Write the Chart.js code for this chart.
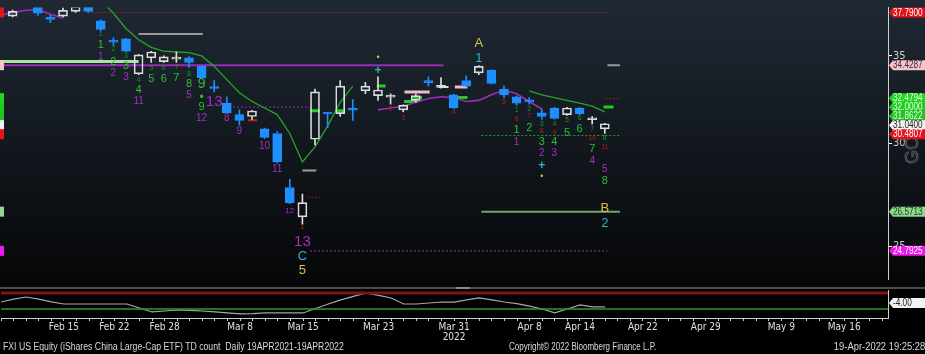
<!DOCTYPE html>
<html>
<head>
<meta charset="utf-8">
<script src="https://cdn.jsdelivr.net/npm/chart.js"></script>
<style>
  html, body { margin:0; padding:0; background:#000; width:925px; height:354px; overflow:hidden; }
  #wrap { position:relative; width:925px; height:354px; }
  canvas { position:absolute; left:0; }
  #main { top:0; }
  #lower { top:287px; }
  .foot { position:absolute; top:341px; font-size:10px; line-height:12px; color:#d8d8d8; white-space:pre;
          font-family:'Liberation Sans',Arial,sans-serif; transform-origin:left top; transform:scaleX(0.87); }
</style>
</head>
<body>
<div id="wrap">
  <canvas id="main" width="925" height="287"></canvas>
  <canvas id="lower" width="925" height="67"></canvas>
  <div class="foot" style="left:3px">FXI US Equity (iShares China Large-Cap ETF) TD count  Daily 19APR2021-19APR2022</div>
  <div class="foot" style="left:509px;transform:scaleX(0.8)">Copyright© 2022 Bloomberg Finance L.P.</div>
  <div class="foot" style="right:0;transform-origin:right top;transform:scaleX(0.94)">19-Apr-2022 19:25:28</div>
</div>
<script>
const FONT = "'Liberation Sans Narrow', 'DejaVu Sans Condensed', 'Arial Narrow', sans-serif";
const NUMFONT = "'Liberation Sans', Arial, sans-serif";

// trading days shown on the x axis
const days = ['Feb 8','Feb 9','Feb 10','Feb 11','Feb 14','Feb 15','Feb 16','Feb 17','Feb 18','Feb 22','Feb 23','Feb 24','Feb 25','Feb 28',
  'Mar 1','Mar 2','Mar 3','Mar 4','Mar 7','Mar 8','Mar 9','Mar 10','Mar 11','Mar 14','Mar 15','Mar 16','Mar 17','Mar 18','Mar 21','Mar 22','Mar 23','Mar 24','Mar 25','Mar 28','Mar 29','Mar 30','Mar 31',
  'Apr 1','Apr 4','Apr 5','Apr 6','Apr 7','Apr 8','Apr 11','Apr 12','Apr 13','Apr 14','Apr 18','Apr 19','Apr 20','Apr 21','Apr 22','Apr 25','Apr 26','Apr 27','Apr 28','Apr 29',
  'May 2','May 3','May 4','May 5','May 6','May 9','May 10','May 11','May 12','May 13','May 16','May 17','May 18','May 19','May 20'];
const tickDays = ['Feb 15','Feb 22','Feb 28','Mar 8','Mar 15','Mar 23','Mar 31','Apr 8','Apr 14','Apr 22','Apr 29','May 9','May 16'];
const yTicks = [25, 30, 35];

// daily OHLC (index = position in days)
const open  = [null,37.55,null,38.30,37.38,37.55,37.87,38.20,37.24,35.92,36.07,33.90,34.88,34.65,34.80,34.88,34.36,33.08,32.19,31.55,31.44,30.76,30.51,27.73,26.33,30.20,31.62,31.60,31.83,32.90,32.62,32.54,31.81,32.35,33.42,33.10,32.67,33.51,33.96,34.13,33.01,32.56,32.31,31.65,31.92,31.55,31.92,31.26,30.76];
const high  = [null,37.95,null,38.50,37.61,38.10,38.30,38.40,37.30,36.13,36.10,35.10,35.29,35.00,35.24,34.95,34.40,33.51,32.56,31.81,31.78,30.80,30.61,28.13,27.41,33.01,31.65,33.51,32.40,33.40,33.73,32.73,32.10,32.73,33.73,33.68,32.70,33.79,34.40,34.15,33.18,32.60,32.51,31.86,31.95,31.95,31.95,31.44,31.07];
const low   = [null,37.50,null,37.60,37.11,37.50,37.80,37.80,36.60,35.65,35.25,33.85,34.59,34.60,34.59,34.30,33.65,32.84,31.60,30.97,31.28,30.25,28.95,26.95,25.98,29.90,30.82,31.44,31.23,32.73,32.35,32.13,31.70,32.24,33.18,33.06,31.90,33.15,33.85,33.30,32.51,32.08,32.13,31.28,31.30,31.50,31.55,31.02,30.51];
const close = [null,37.87,null,37.74,37.33,37.93,38.20,37.87,36.68,35.86,35.29,35.06,35.24,34.94,34.84,34.59,33.68,33.04,31.65,31.23,31.75,30.30,29.01,27.00,27.00,32.84,31.58,33.18,31.79,33.18,32.95,32.58,32.08,32.62,33.38,33.14,31.92,33.18,34.36,33.34,32.67,32.19,32.27,31.44,31.33,31.92,31.60,31.30,31.04];

// trend lines
const greenTrend = [null,null,null,null,null,null,null,null,38.60,37.74,36.74,36.01,35.53,35.29,35.24,35.20,35.00,34.36,33.56,32.79,32.29,31.92,31.55,30.51,29.01,29.80,30.91,32.24,33.18,
  null,null,null,null,null,null,null,null,null,null,null,null,null,32.90,32.67,32.51,32.35,32.19,32.02,31.70];
const magentaTrend = [37.60,37.80,37.93,37.99,37.68,37.43,null,null,null,null,null,null,null,null,null,null,null,null,null,null,null,null,null,null,null,null,null,null,null,null,
  31.81,31.92,32.02,32.24,32.46,32.56,32.51,32.29,32.35,32.67,32.95,32.73,32.29,31.86];

// horizontal levels: [from day, to day, price]
const redDottedLevels = [[7, 48.3, 37.79], [48, 49.2, 32.45], [24.4, 25.4, 27.26]];
const magentaSolidLevels = [[0, 35.2, 34.43]];
const magentaDottedLevels = [[18.5, 24.6, 31.97], [24.6, 48.2, 24.79]];
const greenDottedLevels = [[38.2, 49.2, 30.40]];
const greenSolidLevels = [[38.2, 49.2, 26.57]];
const paleGreenLevels = [[0, 11, 34.65]];
const grayLevels = [[11, 16.1, 36.38], [24, 25.1, 28.58], [48.2, 49.2, 34.43]];
const greenRisk = [[32.06, 33.17, 32.29], [32.8, 33.5, 32.51], [36.1, 37.1, 32.51], [24.6, 25.4, 31.76], [26.6, 27.4, 31.76], [29.9, 30.6, 33.18], [47.9, 48.7, 31.97]];
const pinkRisk = [[32.1, 34.1, 32.84], [36.1, 37.1, 33.12]];
const whiteRisk = [[34.8, 35.6, 33.12]];
const redRisk = [[19.7, 20.4, 31.23]];

// TD count annotations: [day, price, text]
const setupSmall = [[8,36.38,'1'],[9,35.41,'2'],[10,35.00,'3'],[11,33.56,'4'],[12,34.24,'5'],[13,34.24,'6'],[14,34.30,'7'],[15,33.90,'8'],
  [41,31.81,'1'],[42,31.86,'2'],[43,31.02,'3'],[44,31.02,'4'],[45,31.23,'5'],[46,31.33,'6'],[47,30.76,'7'],[48,30.25,'8']];
const setupBig = [[8,35.71,'1'],[9,34.65,'2'],[10,34.36,'3'],[11,32.95,'4'],[12,33.62,'5'],[13,33.62,'6'],[14,33.68,'7'],[15,33.28,'8'],[16,31.97,'9'],
  [41,30.71,'1'],[42,30.82,'2'],[43,30.05,'3'],[44,30.05,'4'],[45,30.56,'5'],[46,30.76,'6'],[47,29.70,'7'],[48,28.06,'8']];
const setupNine = [[16,33.28,'9']];
const greenDots = [[16,32.51,'•']];
const countdown = [[8,34.94,'1'],[9,33.96,'2'],[10,33.73,'3'],[11,32.29,'11'],[15,32.62,'5'],[16,31.33,'12'],[18,31.33,'8'],[19,30.61,'9'],[21,29.85,'10'],[22,28.63,'11'],
  [41,30.05,'1'],[43,29.45,'2'],[44,29.45,'3'],[47,29.06,'4'],[48,28.63,'5']];
const countdownSmall = [[23,26.63,'12']];
const countdownBig = [[17,32.29,'13'],[24,25.21,'13']];
const redCounts = [[24,25.85,'1'],[31,31.86,'2'],[32,31.33,'3'],[36,31.70,'4'],[40,32.24,'5'],[41,31.28,'6'],[42,31.44,'7'],[43,30.66,'8'],[44,30.56,'9'],[47,30.25,'10'],[48,29.80,'11']];
const cyanLabels = [[38,34.82,'1'],[24,24.54,'C'],[48,26.02,'2']];
const yellowLabels = [[38,35.77,'A'],[24,23.93,'5'],[48,26.73,'B']];
const cyanPlus = [[30,34.07,'+'],[43,28.82,'+']];
const yellowDots = [[30,34.88,'•'],[43,28.29,'•']];

// right axis price tags
const tagPrices = [37.79, 34.4287, 32.4794, 32.0, 31.8622, 31.04, 30.4807, 26.5713, 24.7925];
const tagTexts = ['37.7900','34.4287','32.4794','32.0000','31.8622','31.0400','30.4807','26.5713','24.7925'];
const tagColors = [['#e3141a','#fff'],['#f5c3cc','#3a2a2e'],['#1fd61f','#e4ffe4'],['#1fcc1f','#e4ffe4'],['#22c222','#e4ffe4'],['#f2f2f2','#222'],['#e3141a','#fff'],['#8ed88e','#1f3d1f'],['#ec17ec','#fff']];

// lower panel TD indicator
const tdLine = [-3.3,-1.2,0.3,-1.2,-3.2,-4.7,-4.7,-4.7,-4.7,-4.7,-4.7,-7.6,-10.4,-9.7,-9.0,-9.3,-9.7,-10.4,-11.1,-11.8,-11.6,-11.1,-11.1,-11.1,-11.1,
  -7.9,-4.7,-1.8,0.7,3.2,1.4,-0.4,-4.7,-4.7,-4.0,-3.3,-3.3,-1.8,-0.4,-1.8,-3.3,-4.4,-6.2,-8.3,-11.1,-8.3,-5.4,-6.8,-6.8];
const tdUpper = 3.1, tdLower = -8.3, tdLast = -4.0;

const X_MAX = 888 / 12.6;
const BLUE = '#1e8fff', WHITE = '#dcdcdc';
const up = i => close[i] >= open[i];
const candleIdx = open.map((v, i) => v === null ? null : i).filter(v => v !== null);

function levelSets(list, style) {
  return list.map(([a, b, p]) => Object.assign({ type: 'line', data: [{x: a, y: p}, {x: b, y: p}], pointRadius: 0, order: 3 }, style));
}
function series(arr, style) {
  return Object.assign({ type: 'line', data: arr.map((v, i) => ({x: i, y: v})), pointRadius: 0, spanGaps: false, tension: 0, order: 2 }, style);
}

const bgPlugin = {
  id: 'bg',
  beforeDraw(chart) {
    const ctx = chart.ctx;
    const g = ctx.createLinearGradient(0, 0, 0, chart.height);
    g.addColorStop(0, '#1f2934');
    g.addColorStop(0.55, '#11161c');
    g.addColorStop(1, '#050607');
    ctx.save(); ctx.fillStyle = g; ctx.fillRect(0, 0, chart.width, chart.height); ctx.restore();
  }
};

function drawLabels(chart, list, color, size, bold) {
  const ctx = chart.ctx, xs = chart.scales.x, ys = chart.scales.y;
  ctx.save();
  ctx.fillStyle = color;
  ctx.font = (bold ? 'bold ' : '') + size + 'px ' + NUMFONT;
  ctx.textAlign = 'center'; ctx.textBaseline = 'middle';
  list.forEach(([i, p, t]) => ctx.fillText(t, xs.getPixelForValue(i), ys.getPixelForValue(p)));
  ctx.restore();
}

const labelPlugin = {
  id: 'labels',
  afterDatasetsDraw(chart) {
    drawLabels(chart, setupSmall, '#1c961c', 7);
    drawLabels(chart, setupBig, '#2fbf2f', 11);
    drawLabels(chart, setupNine, '#2fbf2f', 14);
    drawLabels(chart, greenDots, '#2fbf2f', 12);
    drawLabels(chart, countdown, '#a42fc0', 10);
    drawLabels(chart, countdownSmall, '#a42fc0', 8);
    drawLabels(chart, countdownBig, '#a42fc0', 15);
    drawLabels(chart, redCounts, '#b81c1c', 7);
    drawLabels(chart, cyanLabels, '#2fb4c8', 13);
    drawLabels(chart, yellowLabels, '#d6c24a', 13);
    drawLabels(chart, cyanPlus, '#2fb4c8', 12, true);
    drawLabels(chart, yellowDots, '#d6c24a', 9);
  }
};

function drawTag(ctx, y, bg, fg, text) {
  const x0 = 889, h = 10;
  ctx.fillStyle = bg;
  ctx.beginPath();
  ctx.moveTo(x0, y);
  ctx.lineTo(x0 + 4, y - h / 2);
  ctx.lineTo(925, y - h / 2);
  ctx.lineTo(925, y + h / 2);
  ctx.lineTo(x0 + 4, y + h / 2);
  ctx.closePath();
  ctx.fill();
  ctx.save();
  ctx.translate(x0 + 4, y + 0.5);
  ctx.scale(0.82, 1);
  ctx.fillStyle = fg;
  ctx.font = '10px ' + NUMFONT;
  ctx.textAlign = 'left'; ctx.textBaseline = 'middle';
  ctx.fillText(text, 0, 0);
  ctx.restore();
}

const tagPlugin = {
  id: 'tags',
  afterDraw(chart) {
    const ctx = chart.ctx, ys = chart.scales.y;
    ctx.save();
    // rotated watermark
    ctx.translate(913, 150);
    ctx.rotate(-Math.PI / 2);
    ctx.strokeStyle = '#55595f';
    ctx.lineWidth = 1;
    ctx.font = '18px ' + NUMFONT;
    ctx.textAlign = 'center'; ctx.textBaseline = 'middle';
    ctx.strokeText('GO', 0, 0);
    ctx.restore();
    ctx.save();
    let prev = -100;
    tagPrices.forEach((p, k) => {
      let y = ys.getPixelForValue(p);
      if (y < prev + 9) y = prev + 9;
      prev = y;
      drawTag(ctx, y, tagColors[k][0], tagColors[k][1], tagTexts[k]);
      ctx.fillStyle = tagColors[k][0];
      ctx.fillRect(0, y - 5, 4, 10);
    });
    ctx.restore();
  }
};

new Chart(document.getElementById('main'), {
  type: 'bar',
  data: {
    datasets: [
      { label: 'body', order: 0, grouped: false, barThickness: 9, minBarLength: 2, borderSkipped: false,
        data: candleIdx.map(i => ({x: i, y: [open[i], close[i]]})),
        backgroundColor: c => up(c.raw.x) ? 'rgba(0,0,0,0)' : BLUE,
        borderColor: c => up(c.raw.x) ? WHITE : BLUE,
        borderWidth: 1 },
      { label: 'wickHi', order: 1, grouped: false, barThickness: 1, borderWidth: 0,
        data: candleIdx.map(i => ({x: i, y: [Math.max(open[i], close[i]), high[i]]})),
        backgroundColor: c => up(c.raw.x) ? WHITE : BLUE },
      { label: 'wickLo', order: 1, grouped: false, barThickness: 1, borderWidth: 0,
        data: candleIdx.map(i => ({x: i, y: [low[i], Math.min(open[i], close[i])]})),
        backgroundColor: c => up(c.raw.x) ? WHITE : BLUE },
      series(greenTrend, { borderColor: '#27a327', borderWidth: 1.3 }),
      series(magentaTrend, { borderColor: '#9e2cbd', borderWidth: 1.6 }),
      ...levelSets(paleGreenLevels, { borderColor: '#a9e59f', borderWidth: 3 }),
      ...levelSets(magentaSolidLevels, { borderColor: '#9a2bb6', borderWidth: 2 }),
      ...levelSets(redDottedLevels, { borderColor: '#a11c1c', borderWidth: 1, borderDash: [2, 2] }),
      ...levelSets(magentaDottedLevels, { borderColor: '#a02cc0', borderWidth: 1, borderDash: [2, 2] }),
      ...levelSets(greenDottedLevels, { borderColor: '#2a9a2a', borderWidth: 1, borderDash: [2, 2] }),
      ...levelSets(greenSolidLevels, { borderColor: '#6fa85c', borderWidth: 2 }),
      ...levelSets(grayLevels, { borderColor: '#9a9a9a', borderWidth: 2 }),
      ...levelSets(greenRisk, { borderColor: '#22cc22', borderWidth: 3 }),
      ...levelSets(pinkRisk, { borderColor: '#f0bcc4', borderWidth: 3 }),
      ...levelSets(whiteRisk, { borderColor: '#dddddd', borderWidth: 2 }),
      ...levelSets(redRisk, { borderColor: '#d02020', borderWidth: 2 })
    ]
  },
  options: {
    responsive: false, animation: false, events: [],
    layout: { padding: 0 },
    plugins: { legend: { display: false }, tooltip: { enabled: false } },
    scales: {
      x: { type: 'linear', display: false, offset: false, min: 0, max: X_MAX, grid: { offset: false } },
      y: {
        type: 'logarithmic', position: 'right', min: 23.571, max: 38.12,
        afterBuildTicks: s => { s.ticks = yTicks.map(v => ({ value: v })); },
        afterFit: s => { s.width = 37; },
        ticks: { color: '#cfcfcf', padding: 1, font: { size: 11, family: FONT }, callback: v => String(v) },
        grid: { drawOnChartArea: false, drawTicks: true, tickLength: 4, color: '#ffffff' },
        border: { display: true, color: '#cfcfcf', width: 1 }
      }
    }
  },
  plugins: [bgPlugin, labelPlugin, tagPlugin]
});

const lowerBg = {
  id: 'lowerBg',
  beforeDraw(chart) {
    const ctx = chart.ctx;
    ctx.save();
    ctx.fillStyle = '#000';
    ctx.fillRect(0, 0, chart.width, chart.height);
    ctx.fillStyle = '#4a4a4a';
    ctx.fillRect(0, 0, chart.width, 2);
    ctx.fillStyle = '#8c8c8c';
    ctx.fillRect(456, 0, 14, 2);
    ctx.restore();
  },
  afterDraw(chart) {
    const ctx = chart.ctx, ys = chart.scales.y;
    ctx.save();
    drawTag(ctx, ys.getPixelForValue(tdLast), '#f2f2f2', '#222', tdLast.toFixed(2));
    ctx.restore();
  }
};

new Chart(document.getElementById('lower'), {
  type: 'line',
  data: {
    datasets: [
      { data: [{x: 0, y: tdUpper}, {x: X_MAX, y: tdUpper}], borderColor: '#7e1414', borderWidth: 3, pointRadius: 0 },
      { data: [{x: 0, y: tdLower}, {x: X_MAX, y: tdLower}], borderColor: '#2c9a2c', borderWidth: 1.5, pointRadius: 0 },
      { data: tdLine.map((v, i) => ({x: i, y: v})), borderColor: '#a8a8a8', borderWidth: 1.2, pointRadius: 0, tension: 0 }
    ]
  },
  options: {
    responsive: false, animation: false, events: [],
    layout: { padding: { top: 3, left: 0, right: 0, bottom: 0 } },
    plugins: { legend: { display: false }, tooltip: { enabled: false } },
    scales: {
      x: {
        type: 'linear', min: 0, max: X_MAX, offset: false,
        afterBuildTicks: s => { s.ticks = days.map((d, i) => ({ value: i })).filter(t => t.value <= X_MAX); },
        afterFit: s => { s.height = 36; },
        ticks: {
          autoSkip: false, maxRotation: 0, padding: 1, color: '#e0e0e0',
          font: { size: 10, family: FONT, lineHeight: 1.05 },
          callback: v => tickDays.includes(days[v]) ? (days[v] === 'Mar 31' ? ['Mar 31', '2022'] : days[v]) : ''
        },
        grid: { drawOnChartArea: false, drawTicks: true, tickLength: 3, color: '#d0d0d0' },
        border: { display: true, color: '#d0d0d0' }
      },
      y: {
        position: 'right', min: -14.71, max: 5.29,
        afterFit: s => { s.width = 37; },
        ticks: { display: false },
        grid: { display: false },
        border: { display: true, color: '#cfcfcf' }
      }
    }
  },
  plugins: [lowerBg]
});
</script>
</body>
</html>
